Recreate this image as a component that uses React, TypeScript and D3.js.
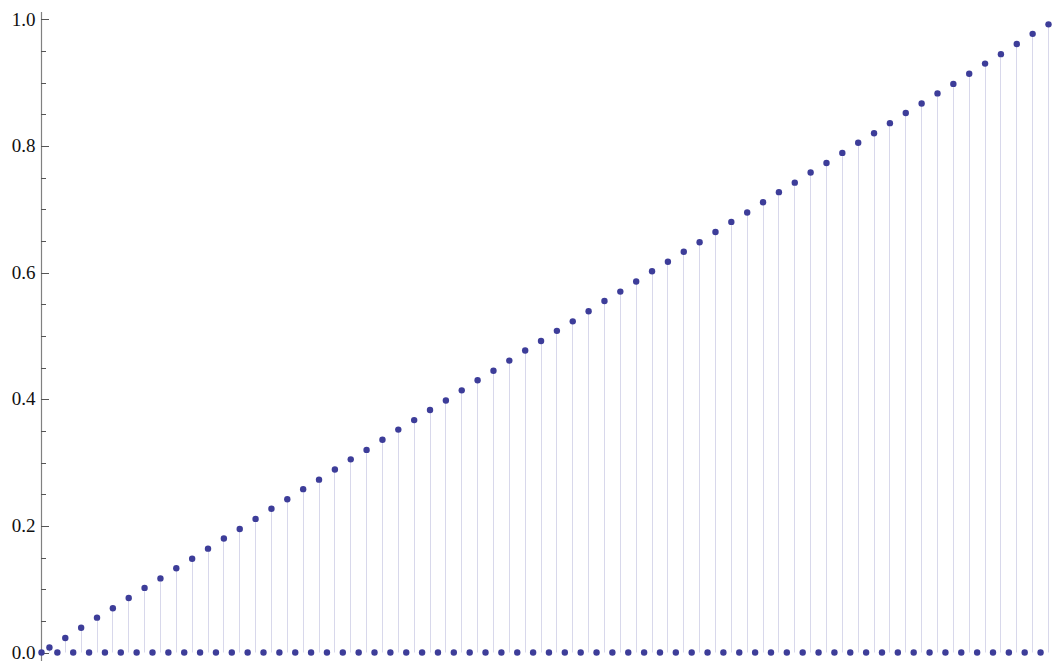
import React from "react";
import * as d3 from "d3";

// 128 samples (index 0..127); even samples are 0, odd samples rise linearly
const values: number[] = [
  0, 0.008, 0, 0.023, 0, 0.039, 0, 0.055, 0, 0.070, 0, 0.086, 0, 0.102, 0, 0.117,
  0, 0.133, 0, 0.148, 0, 0.164, 0, 0.180, 0, 0.195, 0, 0.211, 0, 0.227, 0, 0.242,
  0, 0.258, 0, 0.273, 0, 0.289, 0, 0.305, 0, 0.320, 0, 0.336, 0, 0.352, 0, 0.367,
  0, 0.383, 0, 0.398, 0, 0.414, 0, 0.430, 0, 0.445, 0, 0.461, 0, 0.477, 0, 0.492,
  0, 0.508, 0, 0.523, 0, 0.539, 0, 0.555, 0, 0.570, 0, 0.586, 0, 0.602, 0, 0.617,
  0, 0.633, 0, 0.648, 0, 0.664, 0, 0.680, 0, 0.695, 0, 0.711, 0, 0.727, 0, 0.742,
  0, 0.758, 0, 0.773, 0, 0.789, 0, 0.805, 0, 0.820, 0, 0.836, 0, 0.852, 0, 0.867,
  0, 0.883, 0, 0.898, 0, 0.914, 0, 0.930, 0, 0.945, 0, 0.961, 0, 0.977, 0, 0.992,
];

const majorTicks: number[] = [0, 0.2, 0.4, 0.6, 0.8, 1.0];
const minorTicks: number[] = [
  0.05, 0.1, 0.15, 0.25, 0.3, 0.35, 0.45, 0.5, 0.55, 0.65, 0.7, 0.75, 0.85, 0.9, 0.95,
];

const W = 1054;
const H = 661;

export default function App() {
  const x = d3.scaleLinear().domain([0, values.length - 1]).range([41, 1048]);
  const y = d3.scaleLinear().domain([0, 1]).range([652.5, 19.3]);
  const fmt = d3.format(".1f");
  const axisX = x(0);
  const dotColor = "#3d3d99";
  const dropColor = "#d8d8eb";

  return (
    <svg
      width={W}
      height={H}
      style={{ position: "absolute", left: 0, top: 0, background: "#fff" }}
      fontFamily="'Liberation Serif', 'Times New Roman', serif"
    >
      {/* drop lines */}
      <g stroke={dropColor} strokeWidth={1}>
        {values.map((v, i) =>
          v > 0 ? (
            <line
              key={i}
              x1={Math.round(x(i)) + 0.5}
              x2={Math.round(x(i)) + 0.5}
              y1={y(v)}
              y2={y(0)}
            />
          ) : null
        )}
      </g>
      {/* y axis */}
      <line x1={axisX + 0.5} x2={axisX + 0.5} y1={12} y2={H} stroke="#808080" strokeWidth={1.2} />
      <g stroke="#555" strokeWidth={1}>
        {majorTicks.map((t) => (
          <line key={t} x1={axisX} x2={axisX + 8} y1={Math.round(y(t)) + 0.5} y2={Math.round(y(t)) + 0.5} />
        ))}
        {minorTicks.map((t) => (
          <line key={t} x1={axisX} x2={axisX + 5} y1={Math.round(y(t)) + 0.5} y2={Math.round(y(t)) + 0.5} />
        ))}
      </g>
      <g fontSize={19} fill="#111" textAnchor="end">
        {majorTicks.map((t) => (
          <text key={t} x={35.5} y={y(t)} dy="0.33em">
            {fmt(t)}
          </text>
        ))}
      </g>
      {/* points */}
      <g fill={dotColor}>
        {values.map((v, i) => (
          <circle key={i} cx={x(i) + 0.5} cy={y(v)} r={3.2} />
        ))}
      </g>
    </svg>
  );
}
